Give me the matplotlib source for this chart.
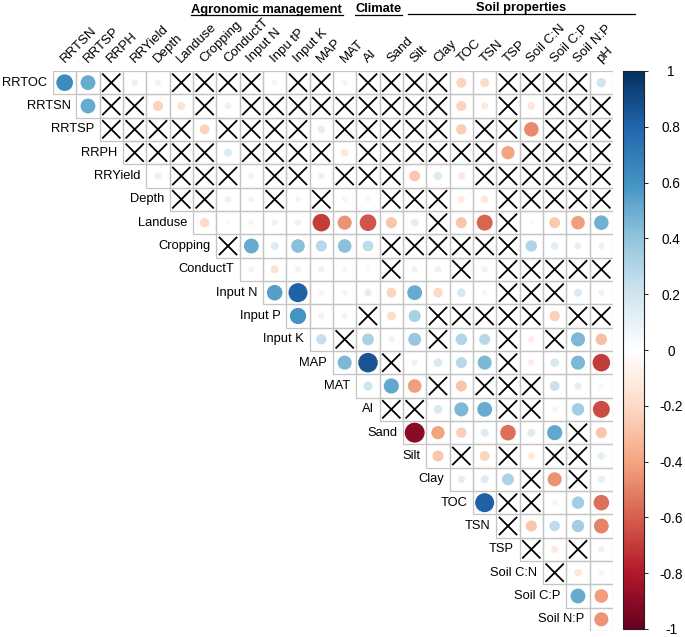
import numpy as np
import matplotlib
matplotlib.use("Agg")
import matplotlib.pyplot as plt
from matplotlib.colors import LinearSegmentedColormap, Normalize
from matplotlib.patches import Circle, Rectangle
from matplotlib.lines import Line2D
from matplotlib.cm import ScalarMappable

plt.rcParams['font.family'] = ['Liberation Sans', 'DejaVu Sans']
plt.rcParams['axes.unicode_minus'] = False

# ---------------- data ----------------
row_labels = ["RRTOC", "RRTSN", "RRTSP", "RRPH", "RRYield", "Depth", "Landuse",
              "Cropping", "ConductT", "Input N", "Input P", "Input K", "MAP", "MAT",
              "AI", "Sand", "Silt", "Clay", "TOC", "TSN", "TSP", "Soil C:N",
              "Soil C:P", "Soil N:P"]
col_labels = ["RRTSN", "RRTSP", "RRPH", "RRYield", "Depth", "Landuse", "Cropping",
              "ConductT", "Input N", "Inpu tP", "Input K", "MAP", "MAT", "AI", "Sand",
              "Silt", "Clay", "TOC", "TSN", "TSP", "Soil C:N", "Soil C:P", "Soil N:P", "pH"]

# upper-triangle correlations: row i holds columns i..23
corr_rows = [
    [0.63, 0.50, 0.02, 0.10, -0.08, 0.03, -0.02, 0.02, 0.03, 0.07, 0.02, 0.03, 0.07, -0.02, 0.02, 0.02, -0.02, -0.23, -0.19, 0.02, 0.03, -0.02, 0.02, 0.20],
    [0.50, 0.02, 0.03, -0.23, -0.15, -0.02, 0.09, 0.02, 0.03, -0.02, 0.02, 0.03, 0.02, -0.02, 0.02, 0.03, -0.23, -0.12, 0.02, -0.14, 0.02, -0.02, 0.03],
    [0.03, 0.02, 0.03, -0.02, -0.22, 0.02, 0.03, 0.06, 0.02, 0.12, 0.02, -0.06, 0.02, 0.03, 0.02, -0.25, -0.08, 0.02, -0.48, -0.06, 0.02, -0.03],
    [0.02, -0.03, 0.02, 0.03, 0.15, 0.02, 0.03, 0.02, 0.03, -0.13, 0.02, 0.03, -0.08, 0.02, 0.03, 0.02, -0.40, 0.02, 0.03, 0.02, -0.05],
    [0.10, 0.02, 0.03, 0.02, -0.09, 0.02, 0.03, -0.09, 0.02, 0.03, 0.02, -0.27, 0.16, -0.13, 0.02, -0.05, 0.02, 0.03, 0.02, 0.03],
    [0.02, 0.03, 0.10, -0.08, 0.02, -0.08, 0.02, 0.06, -0.06, 0.02, 0.03, 0.02, -0.11, -0.13, 0.02, 0.03, 0.02, 0.03, 0.02],
    [-0.20, -0.05, -0.06, 0.09, -0.09, -0.70, -0.45, -0.63, -0.28, 0.13, 0.03, -0.28, -0.58, 0.02, 0.05, -0.27, -0.42, 0.48],
    [0.03, 0.50, 0.15, 0.42, 0.28, 0.42, 0.26, 0.02, 0.03, 0.02, 0.03, 0.02, 0.03, 0.30, 0.13, 0.11, -0.09],
    [-0.08, -0.15, -0.08, 0.09, 0.06, 0.04, 0.02, -0.09, 0.10, 0.03, 0.09, 0.02, 0.03, 0.02, 0.03, 0.02],
    [0.55, 0.82, 0.06, 0.07, 0.12, -0.22, 0.50, -0.21, 0.17, 0.06, 0.02, 0.03, 0.02, 0.15, -0.09],
    [0.60, -0.09, -0.08, 0.03, -0.18, 0.33, 0.02, 0.03, 0.02, 0.03, 0.02, -0.24, 0.03, 0.02],
    [0.24, 0.02, 0.32, -0.09, 0.38, 0.03, 0.30, 0.28, 0.02, -0.10, 0.03, 0.45, -0.30],
    [0.45, 0.86, 0.02, -0.09, 0.17, 0.28, 0.45, 0.02, -0.10, 0.17, 0.45, -0.70],
    [0.20, 0.52, -0.42, 0.02, -0.28, 0.03, 0.02, 0.03, 0.22, 0.12, -0.06],
    [0.02, 0.03, 0.17, 0.45, 0.50, 0.02, 0.03, 0.07, 0.35, -0.65],
    [-0.90, -0.40, -0.25, 0.15, -0.55, 0.15, 0.52, 0.02, -0.28],
    [-0.28, 0.02, -0.22, 0.06, -0.12, -0.08, -0.08, 0.12],
    [0.12, 0.15, 0.32, 0.02, -0.45, 0.03, 0.12],
    [0.82, 0.02, 0.03, 0.07, 0.35, -0.55],
    [0.02, -0.28, 0.25, 0.35, -0.50],
    [0.02, -0.12, -0.05, 0.09],
    [0.02, -0.13, 0.06],
    [0.50, -0.42],
    [-0.45],
]

# "X" = not significant (crossed out)
cross_rows = [
    "..X..XXXX.XX.XXXX..XXXX.",
    ".XX..X.XXXXXXXXX..X.XXX",
    "XXXX.XXXX.XXXXX.XX.XXX",
    "XXXX.XXXX.XXXXXX.XXXX",
    ".XXX.XX.XXX...XXXXXX",
    "XX..X.X..XXX..XXXXX",
    "..........X..X....",
    "X......XXXXXX....",
    "......X..X.XXXXX",
    "..........XXX..",
    "...X..XXXXX.XX",
    ".X...X..X.X..",
    "..X....X....",
    "...X.XXX...",
    "XX...XX...",
    ".......X.",
    ".X.X.XX.",
    "...X.X.",
    ".XX...",
    "X....",
    "X.X.",
    "X..",
    "..",
    ".",
]

group_titles = ["Agronomic management", "Climate", "Soil properties"]
cbar_ticks = [-1, -0.8, -0.6, -0.4, -0.2, 0, 0.2, 0.4, 0.6, 0.8, 1]

# ---------------- style ----------------
cmap = LinearSegmentedColormap.from_list(
    "corr", ["#67001F", "#B2182B", "#D6604D", "#F4A582", "#FDDBC7", "#FFFFFF",
             "#D1E5F0", "#92C5DE", "#4393C3", "#2166AC", "#053061"])
norm = Normalize(-1, 1)

W, H = 685, 637
fig = plt.figure(figsize=(W / 100, H / 100), dpi=100)

def fx(x):
    return x / W

def fy(y):
    return 1 - y / H

ax = fig.add_axes([fx(53), fy(631), 560 / W, 560 / H])
n = len(col_labels)
ax.set_xlim(0, n)
ax.set_ylim(n, 0)
ax.axis('off')

for i, (vals, mask) in enumerate(zip(corr_rows, cross_rows)):
    for k, (v, m) in enumerate(zip(vals, mask)):
        j = i + k
        ax.add_patch(Rectangle((j, i), 1, 1, fill=False, ec='#c4c4c4', lw=0.9, zorder=1))
        r = 0.45 * np.sqrt(abs(v))
        ax.add_patch(Circle((j + 0.5, i + 0.5), r, fc=cmap(norm(v)), ec='none', zorder=2))
        if m == 'X':
            d = 0.11
            ax.plot([j + d, j + 1 - d], [i + d, i + 1 - d], color='black', lw=1.3, zorder=3,
                    solid_capstyle='butt')
            ax.plot([j + d, j + 1 - d], [i + 1 - d, i + d], color='black', lw=1.3, zorder=3,
                    solid_capstyle='butt')

for i, lab in enumerate(row_labels):
    ax.text(i - 0.25, i + 0.5, lab, ha='right', va='center', fontsize=9.3, clip_on=False)

for j, lab in enumerate(col_labels):
    ax.text(j + 0.5, -0.33, lab, ha='left', va='baseline', rotation=45,
            rotation_mode='anchor', fontsize=9.5, clip_on=False)

# group headers
fig.text(fx(191), fy(13), group_titles[0], ha='left', va='baseline', fontsize=9.3, fontweight='bold')
fig.text(fx(355), fy(12.5), group_titles[1], ha='left', va='baseline', fontsize=9.3, fontweight='bold')
fig.text(fx(521), fy(11), group_titles[2], ha='center', va='baseline', fontsize=9.3, fontweight='bold')
for x0, x1, y in [(191, 343, 15), (355, 402, 14.5), (408, 635, 14)]:
    fig.add_artist(Line2D([fx(x0), fx(x1)], [fy(y), fy(y)], color='black', lw=0.9,
                          transform=fig.transFigure))

# colorbar
cax = fig.add_axes([fx(623), fy(629), 21 / W, 558 / H])
cb = fig.colorbar(ScalarMappable(norm=norm, cmap=cmap), cax=cax, ticks=cbar_ticks)
cb.ax.set_yticklabels(['%g' % t for t in cbar_ticks])
cb.outline.set_linewidth(0.8)
cb.outline.set_edgecolor('#222222')
cax.tick_params(length=3, width=0.6, pad=16.5, labelsize=9.8)
for t in cax.get_yticklabels():
    t.set_ha('center')

fig.savefig("out.png", dpi=100)
